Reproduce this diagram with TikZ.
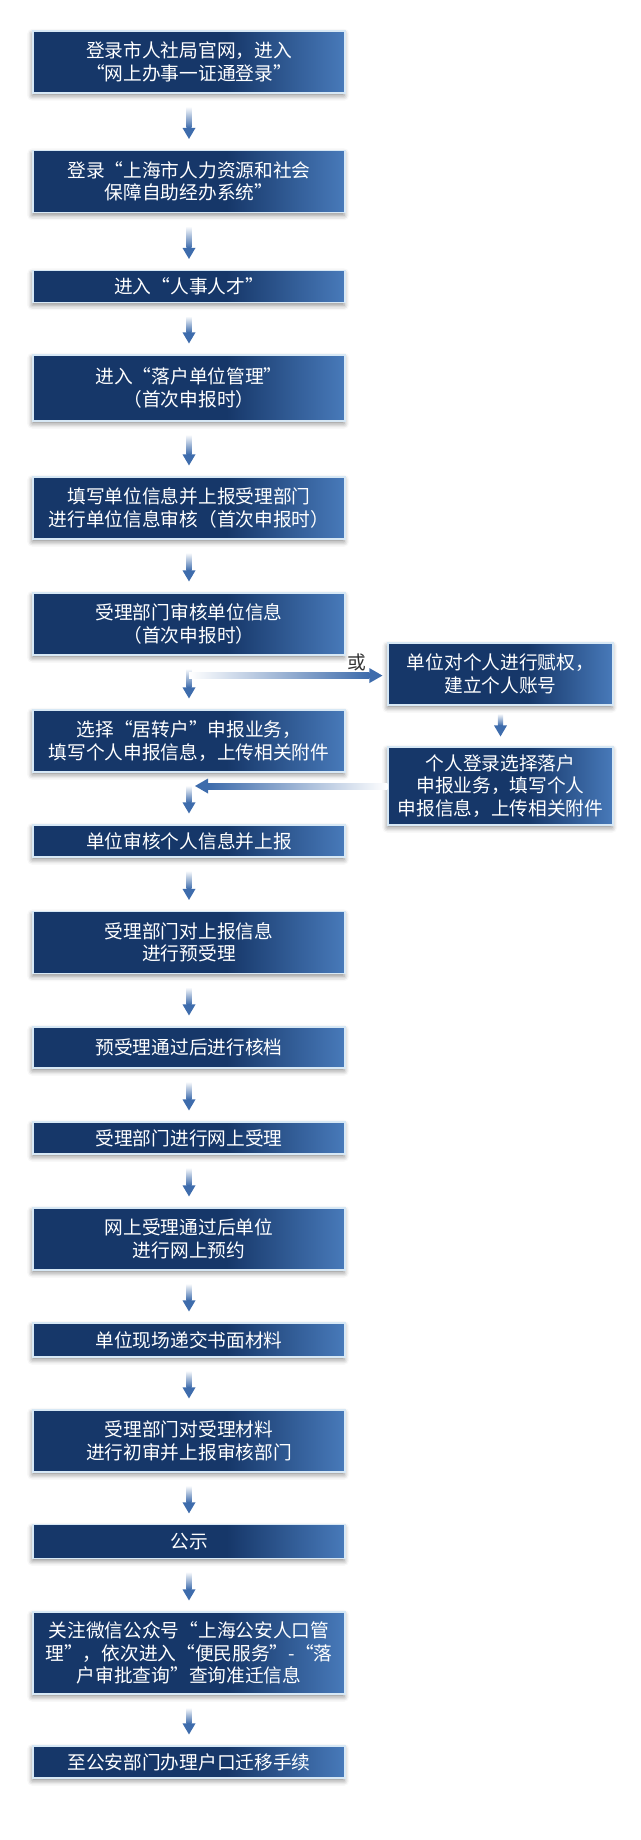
\documentclass[tikz,border=0pt]{standalone}
\usepackage{fontspec}
\setmainfont{Noto Sans CJK SC}
\usetikzlibrary{positioning, calc, shadows.blur}

\definecolor{boxdark}{RGB}{22,55,105}
\definecolor{boxlight}{RGB}{72,122,186}
\definecolor{boxrim}{RGB}{215,232,245}
\definecolor{arrowblue}{RGB}{62,108,172}
\pgfdeclarehorizontalshading{boxshade}{100bp}{color(0bp)=(boxdark); color(25bp)=(boxdark); color(56bp)=(boxdark); color(75bp)=(boxlight); color(100bp)=(boxlight)}

\tikzset{
  stepbox/.style={shade, shading=boxshade, draw=boxrim, line width=0.8pt, text=white, align=center,
    inner sep=0pt, minimum width=7.8cm, minimum height=1.55cm, font=\fontsize{13.3}{16}\selectfont,
    blur shadow={shadow xshift=-0.6pt, shadow yshift=-2pt, shadow blur radius=3.5pt, shadow opacity=45}},
  onebox/.style={stepbox, minimum height=0.8cm},
  sidebox/.style={stepbox, minimum width=5.625cm},
}

\begin{document}
\begin{tikzpicture}[x=0.025cm, y=-0.025cm]
\useasboundingbox (0,0) rectangle (640,1840);

% Main column
\node[stepbox] (s1) at (189,62) {登录市人社局官网，进入\\“网上办事一证通登录”};
\node[stepbox] (s2) at (189,181.5) {登录“上海市人力资源和社会\\保障自助经办系统”};
\node[onebox] (s3) at (189,286.5) {进入“人事人才”};
\node[stepbox, minimum height=1.65cm] (s4) at (189,388) {进入“落户单位管理”\\（首次申报时）};
\node[stepbox] (s5) at (189,508) {填写单位信息并上报受理部门\\进行单位信息审核（首次申报时）};
\node[stepbox] (s6) at (189,624) {受理部门审核单位信息\\（首次申报时）};
\node[stepbox] (s7) at (189,741) {选择“居转户”申报业务，\\填写个人申报信息，上传相关附件};
\node[onebox] (s8) at (189,841) {单位审核个人信息并上报};
\node[stepbox] (s9) at (189,942.5) {受理部门对上报信息\\进行预受理};
\node[onebox, minimum height=1.025cm] (s10) at (189,1047.5) {预受理通过后进行核档};
\node[onebox] (s11) at (189,1138) {受理部门进行网上受理};
\node[stepbox] (s12) at (189,1239) {网上受理通过后单位\\进行网上预约};
\node[onebox, minimum height=0.85cm] (s13) at (189,1340) {单位现场递交书面材料};
\node[stepbox] (s14) at (189,1441) {受理部门对受理材料\\进行初审并上报审核部门};
\node[onebox, minimum height=0.83cm] (s15) at (189,1541.5) {公示};
\node[stepbox, minimum height=2.05cm] (s16) at (189,1653) {关注微信公众号“上海公安人口管\\理”，依次进入“便民服务”-“落\\户审批查询”查询准迁信息};
\node[onebox] (s17) at (189,1762) {至公安部门办理户口迁移手续};

% Side branch
\node[sidebox] (r1) at (500.5,674) {单位对个人进行赋权，\\建立个人账号};
\node[sidebox, minimum height=1.95cm] (r2) at (500.5,786) {个人登录选择落户\\申报业务，填写个人\\申报信息，上传相关附件};

% Down arrows
\foreach \a/\b in {s1/s2,s2/s3,s3/s4,s4/s5,s5/s6,s6/s7,s7/s8,s8/s9,s9/s10,s10/s11,s11/s12,s12/s13,s13/s14,s14/s15,s15/s16,s16/s17} {
  \shade[top color=white, bottom color=arrowblue] ($(\a.south)+(-2.6,13)$) rectangle ($(\b.north)+(2.6,-22)$);
  \fill[arrowblue] ($(\b.north)+(-6.5,-22)$) -- ($(\b.north)+(6.5,-22)$) -- ($(\b.north)+(0,-11)$) -- cycle;
}
\shade[top color=white, bottom color=arrowblue] ($(r1.south)+(-2.6,8)$) rectangle ($(r2.north)+(2.6,-21)$);
\fill[arrowblue] ($(r2.north)+(-6.5,-21)$) -- ($(r2.north)+(6.5,-21)$) -- ($(r2.north)+(0,-10)$) -- cycle;

% Branch out (or)
\coordinate (fork) at ($(s6.south)+(0,20)$);
\shade[left color=white, right color=arrowblue] ($(fork)+(0,-3)$) rectangle ($(r1.west |- fork)+(-18,3)$);
\fill[arrowblue] ($(r1.west |- fork)+(-18,-7.5)$) -- ($(r1.west |- fork)+(-18,7.5)$) -- ($(r1.west |- fork)+(-5,0)$) -- cycle;
\node[font=\fontsize{13.3}{16}\selectfont, text=black!80] (orlabel) at (357,662) {或};

% Branch back
\coordinate (join) at (r2.west -| s7.south);
\shade[left color=arrowblue, right color=white] ($(join)+(19,-3)$) rectangle ($(r2.west)+(0,3)$);
\fill[arrowblue] ($(join)+(19,-7.5)$) -- ($(join)+(19,7.5)$) -- ($(join)+(6,0)$) -- cycle;
\end{tikzpicture}
\end{document}
